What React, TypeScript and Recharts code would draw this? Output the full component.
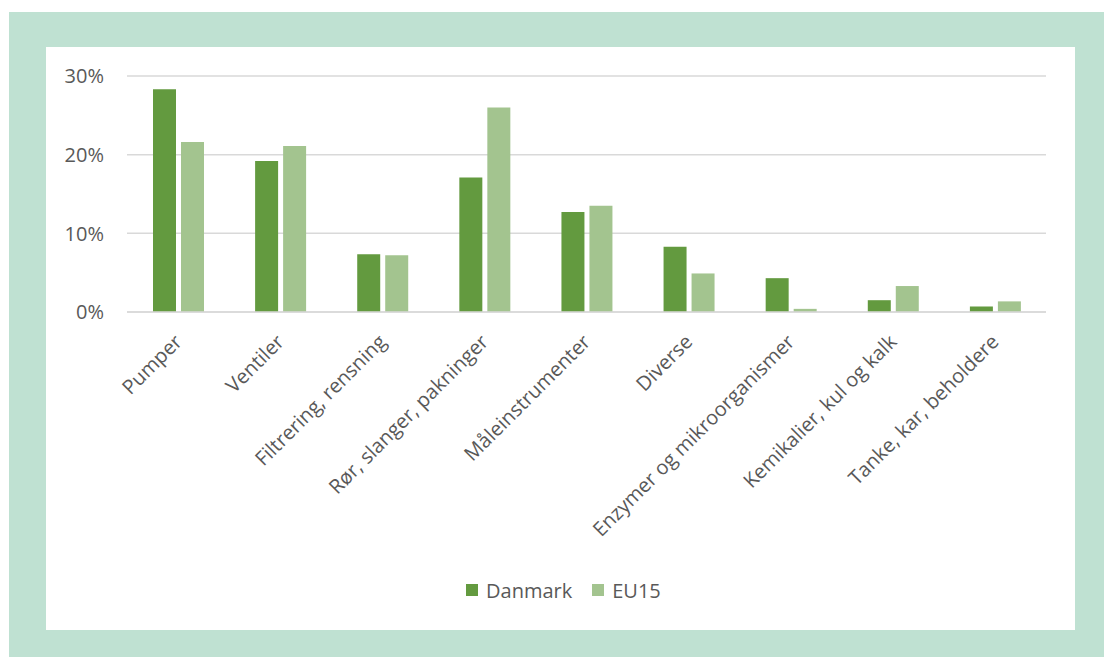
import React from 'react';
import { BarChart, Bar, XAxis, YAxis, CartesianGrid, Legend } from 'recharts';

const categories = [
  'Pumper',
  'Ventiler',
  'Filtrering, rensning',
  'Rør, slanger, pakninger',
  'Måleinstrumenter',
  'Diverse',
  'Enzymer og mikroorganismer',
  'Kemikalier, kul og kalk',
  'Tanke, kar, beholdere',
];
const danmark = [28.3, 19.2, 7.35, 17.1, 12.7, 8.3, 4.3, 1.5, 0.7];
const eu15 = [21.6, 21.1, 7.2, 26.0, 13.5, 4.9, 0.4, 3.3, 1.35];
const yTicks = [0, 10, 20, 30];
const seriesNames = ['Danmark', 'EU15'];

const data = categories.map((c, i) => ({ name: c, Danmark: danmark[i], EU15: eu15[i] }));

const DK = '#639A3F';
const EU = '#A3C48F';
const TEXT = '#595959';
const FONT = '"Open Sans", sans-serif';

const XTick = (props: any) => {
  const { x, y, payload } = props;
  return (
    <g transform={`translate(${x + 3},${y + 1})`}>
      <text x={0} y={0} dy={3} textAnchor="end" transform="rotate(-45)" fill={TEXT} fontSize={20} fontFamily={FONT}>
        {payload.value}
      </text>
    </g>
  );
};

const YTick = (props: any) => {
  const { x, y, payload } = props;
  return (
    <text x={x} y={y} dy="0.36em" textAnchor="end" fill={TEXT} fontSize={20} fontFamily={FONT}>
      {`${payload.value}%`}
    </text>
  );
};

const LegendContent = () => {
  const colors = [DK, EU];
  return (
    <div style={{ height: 26, display: 'flex', alignItems: 'center', paddingLeft: 420, fontFamily: FONT, fontSize: 20, color: TEXT }}>
      {seriesNames.map((n, i) => (
        <div key={n} style={{ display: 'flex', alignItems: 'center', marginRight: 20 }}>
          <span style={{ display: 'inline-block', width: 12, height: 12, background: colors[i], marginRight: 8 }} />
          <span>{n}</span>
        </div>
      ))}
    </div>
  );
};

export default function App() {
  return (
    <div style={{ position: 'absolute', left: 0, top: 0, width: 1104, height: 657, background: '#fff' }}>
      <div style={{ position: 'absolute', left: 9, top: 12, width: 1095, height: 645, background: '#BFE1D2' }} />
      <div style={{ position: 'absolute', left: 46, top: 47, width: 1029, height: 583, background: '#fff' }}>
        <BarChart
          width={1029}
          height={583}
          data={data}
          margin={{ top: 29, right: 29, left: 0, bottom: 27 }}
          barSize={23}
          barGap={5}
        >
          <CartesianGrid vertical={false} stroke="#D9D9D9" strokeWidth={1.5} />
          <XAxis
            dataKey="name"
            interval={0}
            height={265}
            tickLine={false}
            tickSize={0}
            tickMargin={28}
            axisLine={{ stroke: '#D9D9D9', strokeWidth: 1.5 }}
            tick={<XTick />}
          />
          <YAxis
            width={81}
            domain={[0, 30]}
            ticks={yTicks}
            axisLine={false}
            tickLine={false}
            tickSize={0}
            tickMargin={23}
            tick={<YTick />}
          />
          <Legend
            verticalAlign="bottom"
            height={26}
            wrapperStyle={{ left: 0, width: 1029 }}
            content={<LegendContent />}
          />
          <Bar dataKey="Danmark" fill={DK} isAnimationActive={false} />
          <Bar dataKey="EU15" fill={EU} isAnimationActive={false} />
        </BarChart>
      </div>
    </div>
  );
}
